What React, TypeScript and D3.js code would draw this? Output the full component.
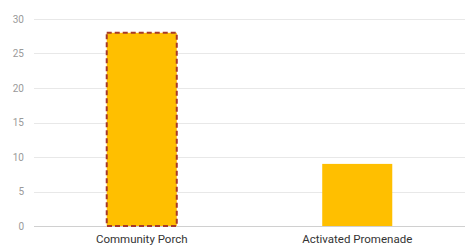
import React from "react";
import * as d3 from "d3";

const categories = ["Community Porch", "Activated Promenade"];
const values = [28, 9];
const highlighted = [true, false];
const yTicks = [0, 5, 10, 15, 20, 25, 30];

const W = 476;
const H = 251;
const margin = { left: 34, right: 11, top: 19, bottom: 25 };

export default function App() {
  const x = d3
    .scaleBand<string>()
    .domain(categories)
    .range([margin.left, W - margin.right])
    .padding(0);
  const y = d3
    .scaleLinear()
    .domain([0, 30])
    .range([H - margin.bottom, margin.top]);
  const barW = x.bandwidth() * 0.325;

  return (
    <svg
      width={W}
      height={H}
      style={{ position: "absolute", left: 0, top: 0, display: "block", background: "#fff" }}
      fontFamily="Roboto, 'Noto Sans', sans-serif"
    >
      {yTicks.map((t) => (
        <g key={t}>
          <line
            x1={margin.left}
            x2={W - margin.right}
            y1={Math.round(y(t)) + 0.5}
            y2={Math.round(y(t)) + 0.5}
            stroke={t === 0 ? "#d0d0d0" : "#e8e8e8"}
            strokeWidth={1}
          />
          <text
            x={24}
            y={y(t)}
            dy="0.35em"
            textAnchor="end"
            fontSize={10}
            fill="#9a9a9a"
          >
            {t}
          </text>
        </g>
      ))}
      {categories.map((c, i) => {
        const cx = (x(c) as number) + x.bandwidth() / 2;
        const top = y(values[i]);
        const bottom = y(0);
        return (
          <g key={c}>
            <rect
              x={cx - barW / 2}
              y={top}
              width={barW}
              height={bottom - top}
              fill="#FFBF00"
              stroke={highlighted[i] ? "#A63A2A" : "none"}
              strokeWidth={2}
              strokeDasharray="5,3"
            />
            <text
              x={cx}
              y={H - 8}
              textAnchor="middle"
              fontSize={11.5}
              fill="#333"
            >
              {c}
            </text>
          </g>
        );
      })}
    </svg>
  );
}
